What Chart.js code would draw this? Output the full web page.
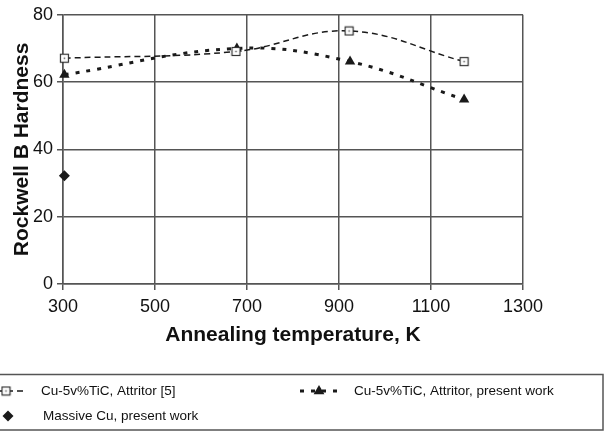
<!DOCTYPE html>
<html>
<head>
<meta charset="utf-8">
<script src="https://cdn.jsdelivr.net/npm/chart.js@4.4.1/dist/chart.umd.min.js"></script>
<style>
  body { margin: 0; background: #fff; }
  #wrap { width: 612px; height: 433px; }
</style>
</head>
<body>
<div id="wrap"><canvas id="hardChart"></canvas></div>
<script>
// Data
const seriesNames = ['Cu-5v%TiC, Attritor [5]', 'Cu-5v%TiC, Attritor, present work', 'Massive Cu, present work'];
const tempRef = [303, 676, 922, 1172];
const hardRef = [67.1, 69.1, 75.2, 66.1];
const tempNew = [303, 678, 924, 1172];
const hardNew = [62.2, 70.0, 66.1, 54.8];
const tempCu = [303];
const hardCu = [32.2];

const FONT = "'Liberation Sans', Arial, sans-serif";
const INK = '#1a1a1a';
const GRID = '#555';

const toXY = (xs, ys) => xs.map((x, i) => ({ x: x, y: ys[i] }));

// hollow square with a dot in the middle
function squareMarker() {
    const c = document.createElement('canvas');
    c.width = 11; c.height = 11;
    const g = c.getContext('2d');
    g.fillStyle = '#fff';
    g.fillRect(1, 1, 9, 9);
    g.strokeStyle = '#333';
    g.lineWidth = 1.2;
    g.strokeRect(1.5, 1.5, 8, 8);
    g.fillStyle = '#555';
    g.fillRect(4.75, 4.75, 1.5, 1.5);
    return c;
}
const sqImg = squareMarker();

function drawMarker(ctx, style, x, y) {
    ctx.save();
    ctx.fillStyle = INK;
    if (style === 'square') {
        ctx.drawImage(sqImg, x - 5.5, y - 5.5);
    } else if (style === 'triangle') {
        ctx.beginPath();
        ctx.moveTo(x, y - 6);
        ctx.lineTo(x + 5.4, y + 3.2);
        ctx.lineTo(x - 5.4, y + 3.2);
        ctx.closePath();
        ctx.fill();
    } else {
        ctx.beginPath();
        ctx.moveTo(x, y - 5.5);
        ctx.lineTo(x + 5.5, y);
        ctx.lineTo(x, y + 5.5);
        ctx.lineTo(x - 5.5, y);
        ctx.closePath();
        ctx.fill();
    }
    ctx.restore();
}

// boxed legend under the axis title
const boxLegend = {
    id: 'boxLegend',
    afterDraw(chart) {
        const ctx = chart.ctx;
        ctx.save();
        ctx.strokeStyle = GRID;
        ctx.lineWidth = 1.5;
        ctx.strokeRect(-1, 374.5, 604, 55.5);

        const slots = [[6, 391], [319, 391], [8, 416]];
        const marks = ['square', 'triangle', 'diamond'];
        chart.data.datasets.forEach((ds, i) => {
            const [cx, cy] = slots[i];
            if (ds.showLine !== false) {
                ctx.save();
                ctx.strokeStyle = INK;
                ctx.lineWidth = ds.borderWidth;
                ctx.setLineDash(ds.borderDash || []);
                ctx.beginPath();
                ctx.moveTo(cx - 19, cy);
                ctx.lineTo(cx + 19, cy);
                ctx.stroke();
                ctx.restore();
            }
            drawMarker(ctx, marks[i], cx, cy);
            ctx.fillStyle = '#111';
            ctx.font = '13.5px ' + FONT;
            ctx.textBaseline = 'middle';
            ctx.fillText(ds.label, cx + 35, cy);
        });
        ctx.restore();
    }
};

const ctx = document.getElementById('hardChart');
new Chart(ctx, {
    type: 'line',
    data: {
        datasets: [{
            label: seriesNames[0],
            data: toXY(tempRef, hardRef),
            borderColor: INK,
            borderWidth: 1.5,
            borderDash: [6, 4],
            tension: 0.4,
            pointStyle: sqImg,
            pointRadius: 5,
            clip: false
        }, {
            label: seriesNames[1],
            data: toXY(tempNew, hardNew),
            borderColor: INK,
            backgroundColor: INK,
            borderWidth: 3,
            borderDash: [4, 7],
            tension: 0.4,
            pointStyle: 'triangle',
            pointRadius: 6,
            pointBorderWidth: 0,
            clip: false
        }, {
            label: seriesNames[2],
            data: toXY(tempCu, hardCu),
            showLine: false,
            borderColor: INK,
            backgroundColor: INK,
            pointStyle: 'rectRot',
            pointRadius: 5.5,
            pointBorderWidth: 0,
            clip: false
        }]
    },
    options: {
        responsive: true,
        maintainAspectRatio: false,
        animation: false,
        layout: {
            padding: { left: 0, right: 89, top: 13, bottom: 78 }
        },
        plugins: {
            legend: { display: false },
            tooltip: { enabled: false }
        },
        scales: {
            x: {
                type: 'linear',
                min: 300,
                max: 1300,
                afterFit: (s) => { s.height = 71; },
                ticks: {
                    stepSize: 200,
                    color: '#111',
                    padding: 6,
                    font: { family: FONT, size: 18 },
                    callback: (v) => String(v)
                },
                grid: { color: GRID, lineWidth: 1.5, tickLength: 6 },
                border: { color: GRID, width: 1.5 },
                title: {
                    display: true,
                    text: 'Annealing temperature, K',
                    color: '#111',
                    font: { family: FONT, size: 21, weight: 'bold', lineHeight: 1.2 },
                    padding: { top: 0, bottom: 7 }
                }
            },
            y: {
                min: 0,
                max: 80,
                afterFit: (s) => { s.width = 63; },
                ticks: {
                    stepSize: 20,
                    color: '#111',
                    padding: 4,
                    font: { family: FONT, size: 18 }
                },
                grid: { color: GRID, lineWidth: 1.5, tickLength: 6 },
                border: { color: GRID, width: 1.5 },
                title: {
                    display: true,
                    text: 'Rockwell B Hardness',
                    color: '#111',
                    font: { family: FONT, size: 21, weight: 'bold', lineHeight: 1.2 },
                    padding: { top: 10, bottom: 0 }
                }
            }
        }
    },
    plugins: [boxLegend]
});
</script>
</body>
</html>
